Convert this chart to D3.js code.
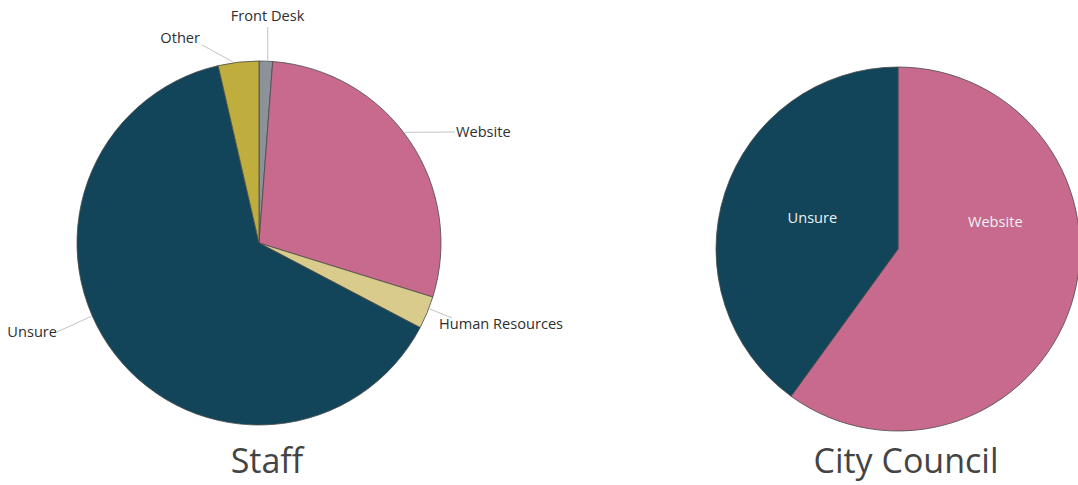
<!DOCTYPE html>
<html>
<head>
<meta charset="utf-8">
<script src="https://cdn.jsdelivr.net/npm/d3@7/dist/d3.min.js"></script>
<style>
  html, body { margin: 0; padding: 0; background: #ffffff; }
  svg { display: block; }
  text { font-family: "Open Sans", "Noto Sans", sans-serif; }
</style>
</head>
<body>
<svg id="chart" width="1078" height="485"></svg>
<script>
// Staff responses (share of answers, %), in drawing order clockwise from 12 o'clock
const staffCategories = ["Front Desk", "Website", "Human Resources", "Unsure", "Other"];
const staffValues = [1.2, 28.6, 2.9, 63.7, 3.6];

// City Council responses (share of answers, %)
const councilCategories = ["Website", "Unsure"];
const councilValues = [60, 40];

const chartTitles = ["Staff", "City Council"];

const colorFor = d3.scaleOrdinal()
  .domain(["Front Desk", "Website", "Human Resources", "Unsure", "Other"])
  .range(["#8b9299", "#c76a8e", "#d8cb8b", "#124559", "#bfae3e"]);

const svg = d3.select("#chart");
const radius = 182;

const pie = d3.pie().sort(null).value(d => d.value);
const arc = d3.arc().innerRadius(0).outerRadius(radius);

// Outside callouts for the staff pie: rim angle (deg), line end and text position relative to the centre
const staffCallouts = {
  "Front Desk":      { angle: 2.75,  end: [8.7, -216], text: [8.5, -222], anchor: "middle" },
  "Other":           { angle: -8.2,  end: [-57, -198], text: [-59, -200], anchor: "end" },
  "Website":         { angle: 52.8,  end: [196, -111], text: [197, -106], anchor: "start" },
  "Human Resources": { angle: 111.1, end: [193, 75],   text: [180, 86],   anchor: "start" },
  "Unsure":          { angle: 246.4, end: [-202, 89],  text: [-202, 94],  anchor: "end" }
};

// Inside labels for the council pie: polar position (deg, px)
const councilLabels = {
  "Website": { angle: 74.4, r: 101 },
  "Unsure":  { angle: 289.8, r: 91 }
};

function drawPie(cx, cy, categories, values, title) {
  const g = svg.append("g").attr("transform", `translate(${cx},${cy})`);
  const data = categories.map((c, i) => ({ category: c, value: values[i] }));
  const arcs = pie(data);

  g.selectAll("path.slice")
    .data(arcs)
    .join("path")
    .attr("class", "slice")
    .attr("d", arc)
    .attr("fill", d => colorFor(d.data.category))
    .attr("stroke", "#4a4a4a")
    .attr("stroke-width", 0.8)
    .attr("stroke-linejoin", "round");

  svg.append("text")
    .attr("x", cx + 8)
    .attr("y", 473)
    .attr("text-anchor", "middle")
    .attr("font-size", 34)
    .attr("fill", "#444444")
    .text(title);

  return { g, arcs };
}

// Staff pie with callout labels
const staff = drawPie(259, 243, staffCategories, staffValues, chartTitles[0]);
staff.arcs.forEach(a => {
  const c = staffCallouts[a.data.category];
  const start = d3.pointRadial(c.angle * Math.PI / 180, radius + 1);
  staff.g.append("line")
    .attr("x1", start[0]).attr("y1", start[1])
    .attr("x2", c.end[0]).attr("y2", c.end[1])
    .attr("stroke", "#c4c4c4")
    .attr("stroke-width", 1);
  staff.g.append("text")
    .attr("x", c.text[0])
    .attr("y", c.text[1])
    .attr("text-anchor", c.anchor)
    .attr("font-size", 14.6)
    .attr("fill", "#2e2e2e")
    .text(a.data.category);
});

// City Council pie with labels inside the slices
const council = drawPie(898, 249, councilCategories, councilValues, chartTitles[1]);
council.arcs.forEach(a => {
  const p = councilLabels[a.data.category];
  const pos = d3.pointRadial(p.angle * Math.PI / 180, p.r);
  council.g.append("text")
    .attr("x", pos[0])
    .attr("y", pos[1])
    .attr("dy", "0.35em")
    .attr("text-anchor", "middle")
    .attr("font-size", 14.6)
    .attr("fill", "#eef2f4")
    .text(a.data.category);
});
</script>
</body>
</html>
